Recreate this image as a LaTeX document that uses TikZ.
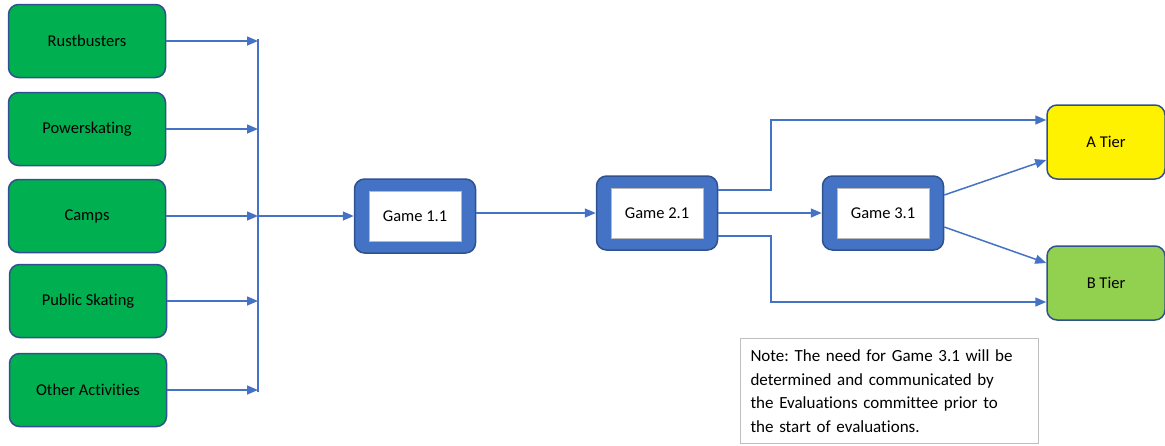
\documentclass[tikz,border=0pt]{standalone}
\usepackage{fontspec}
\setmainfont[Ligatures=NoCommon]{Carlito}
\usepackage{tikz}
\usetikzlibrary{arrows.meta,positioning}
\definecolor{boxgreen}{HTML}{00B050}
\definecolor{edgeblue}{HTML}{2F528F}
\definecolor{flowblue}{HTML}{4472C4}
\definecolor{tiergreen}{HTML}{92D050}
\frenchspacing

\begin{document}
\begin{tikzpicture}[x=1pt, y=-1pt,
  src/.style = {draw=edgeblue, line width=1.5pt, fill=boxgreen, rounded corners=10pt,
                minimum width=157pt, minimum height=73pt, font=\fontsize{16.5}{19}\selectfont},
  game/.style = {draw=edgeblue, line width=1.5pt, fill=flowblue, rounded corners=10pt,
                 minimum width=121pt, minimum height=74pt},
  gamein/.style = {draw=gray!55, line width=1pt, fill=white, minimum width=92pt,
                   minimum height=50pt, font=\fontsize{16.5}{19}\selectfont},
  tier/.style = {draw=edgeblue, line width=1.5pt, rounded corners=10pt,
                 minimum width=118pt, minimum height=74pt, font=\fontsize{16.5}{19}\selectfont},
  flow/.style = {flowblue, line width=1.5pt, -{Triangle[length=11pt,width=9pt]}}]
\useasboundingbox (0,0) rectangle (1165,445);

%activity boxes
\node[src] (rust)   at (87,41)  {Rustbusters};
\node[src] (power)  at (87,129) {Powerskating};
\node[src] (camps)  at (87,216) {Camps};
\node[src] (public) at (88,301) {Public Skating};
\node[src] (other)  at (88,390) {Other Activities};

%bus line
\coordinate (bus) at (258,216);
\foreach \s in {rust,power,camps,public,other}
  \draw[flow] (\s.east) -- (\s.east -| bus);
\draw[flowblue, line width=1.5pt] ([yshift=2pt]rust.east -| bus) -- ([yshift=-2pt]other.east -| bus);

%games
\node[game] (g1) at (415,216) {};
\node[gamein] (g1t) at (g1) {Game 1.1};
\node[game] (g2) at (657,213) {};
\node[gamein] (g2t) at (g2) {Game 2.1};
\node[game] (g3) at (883,213) {};
\node[gamein] (g3t) at (g3) {Game 3.1};

%tiers
\node[tier, fill=yellow] (ta) at (1106,142) {A Tier};
\node[tier, fill=tiergreen] (tb) at (1106,283) {B Tier};

%flow between games
\draw[flow] (bus) -- (g1.west);
\draw[flow] (g2.west -| g1.east) -- (g2.west);
\draw[flow] (g2.east) -- (g3.west);

%Game 2.1 straight to tiers
\coordinate (split) at (771,213);
\draw[flow] ([yshift=23pt]g2.east) -- ([yshift=23pt]g2.east -| split) |- ([yshift=22pt]ta.west);
\draw[flow] ([yshift=-23pt]g2.east) -- ([yshift=-23pt]g2.east -| split) |- ([yshift=-19pt]tb.west);

%Game 3.1 to tiers
\draw[flow] ([yshift=18pt]g3.east) -- ([yshift=-18pt]ta.west);
\draw[flow] ([yshift=-14pt]g3.east) -- ([yshift=20pt]tb.west);

%note
\node[draw=gray!50, line width=1pt, anchor=north west, minimum width=298pt, minimum height=105pt,
      text width=278pt, inner xsep=10pt, align=left, font=\fontsize{17}{23.5}\selectfont]
  (note) at (740,338)
  {Note: The need for Game 3.1 will be\\ determined and communicated by\\ the Evaluations committee prior to\\ the start of evaluations.};

\end{tikzpicture}
\end{document}
